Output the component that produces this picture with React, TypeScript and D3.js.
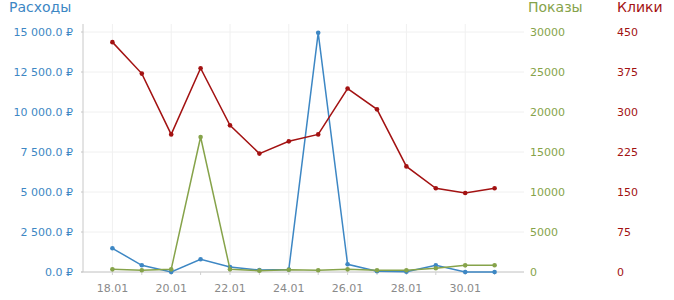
import React from "react";
import * as d3 from "d3";

const dates = ["18.01","19.01","20.01","21.01","22.01","23.01","24.01","25.01","26.01","27.01","28.01","29.01","30.01","31.01"];
const spend = [1480, 420, 0, 795, 310, 120, 150, 14950, 480, 50, 20, 420, 0, 0];
const impressions = [330, 210, 330, 16875, 330, 170, 290, 210, 330, 210, 210, 460, 830, 850];
const clicks = [431, 372, 258, 382, 275, 222, 245, 258, 344, 305, 198, 157, 148, 157];

const spendTicks = [0, 2500, 5000, 7500, 10000, 12500, 15000];
const impTicks = [0, 5000, 10000, 15000, 20000, 25000, 30000];
const clickTicks = [0, 75, 150, 225, 300, 375, 450];

const W = 674, H = 300;
const M = { left: 83, right: 524, top: 24, bottom: 272 };
const BLUE = "#3d87c4";
const GREEN = "#86a34a";
const RED = "#a31212";
const FONT = "DejaVu Sans, sans-serif";

function fmtSpend(v: number) {
  const s = d3.format(",.1f")(v).replace(/,/g, " ");
  return s + " ₽";
}

export default function App() {
  const x = d3.scalePoint<string>().domain(dates).range([M.left, M.right]).padding(1);
  const ySpend = d3.scaleLinear().domain([0, 15000]).range([272, 32]);
  const yImp = d3.scaleLinear().domain([0, 30000]).range([272, 32]);
  const yClk = d3.scaleLinear().domain([0, 450]).range([272, 32]);

  const series = [
    { vals: spend, y: ySpend, color: BLUE },
    { vals: impressions, y: yImp, color: GREEN },
    { vals: clicks, y: yClk, color: RED },
  ];

  return (
    <svg width={W} height={H} style={{ position: "absolute", left: 0, top: 0, fontFamily: FONT }}>
      {/* grid */}
      {spendTicks.map((t) => (
        <line key={"hg" + t} x1={M.left} x2={M.right} y1={ySpend(t)} y2={ySpend(t)} stroke="#f0f0f0" />
      ))}
      {dates.map((d, i) =>
        i % 2 === 0 ? (
          <line key={"vg" + d} x1={x(d)} x2={x(d)} y1={M.top} y2={M.bottom} stroke="#f0f0f0" />
        ) : null
      )}
      {/* axes */}
      <line x1={M.left} x2={M.left} y1={M.top} y2={M.bottom} stroke="#c8c8c8" />
      <line x1={M.left - 2} x2={M.right} y1={M.bottom} y2={M.bottom} stroke="#c8c8c8" />
      {spendTicks.map((t) => (
        <line key={"lt" + t} x1={M.left - 2} x2={M.left} y1={ySpend(t)} y2={ySpend(t)} stroke="#c8c8c8" />
      ))}
      {dates.map((d) => (
        <line key={"xt" + d} x1={x(d)} x2={x(d)} y1={M.bottom} y2={M.bottom + 3} stroke="#d0d0d0" />
      ))}
      {/* tick labels */}
      {spendTicks.map((t) => (
        <text key={"ls" + t} x={73} y={ySpend(t)} dy="0.35em" textAnchor="end" fontSize={11} fill={BLUE}>
          {fmtSpend(t)}
        </text>
      ))}
      {impTicks.map((t) => (
        <text key={"li" + t} x={530} y={yImp(t)} dy="0.35em" textAnchor="start" fontSize={11} fill={GREEN}>
          {String(t)}
        </text>
      ))}
      {clickTicks.map((t) => (
        <text key={"lc" + t} x={617} y={yClk(t)} dy="0.35em" textAnchor="start" fontSize={11} fill={RED}>
          {String(t)}
        </text>
      ))}
      {dates.map((d, i) =>
        i % 2 === 0 ? (
          <text key={"xl" + d} x={x(d)} y={292} textAnchor="middle" fontSize={11} fill="#8a8a8a">
            {d}
          </text>
        ) : null
      )}
      {/* titles */}
      <text x={9} y={12} fontSize={14} fill={BLUE}>Расходы</text>
      <text x={528} y={12} fontSize={14} fill={GREEN}>Показы</text>
      <text x={617} y={12} fontSize={14} fill={RED}>Клики</text>
      {/* series */}
      {series.map((s, si) => {
        const line = d3
          .line<number>()
          .x((_, i) => x(dates[i]) as number)
          .y((v) => s.y(v));
        return (
          <g key={"s" + si}>
            <path d={line(s.vals) || ""} fill="none" stroke={s.color} strokeWidth={1.5} />
            {s.vals.map((v, i) => (
              <circle key={i} cx={x(dates[i])} cy={s.y(v)} r={2.3} fill={s.color} />
            ))}
          </g>
        );
      })}
    </svg>
  );
}
